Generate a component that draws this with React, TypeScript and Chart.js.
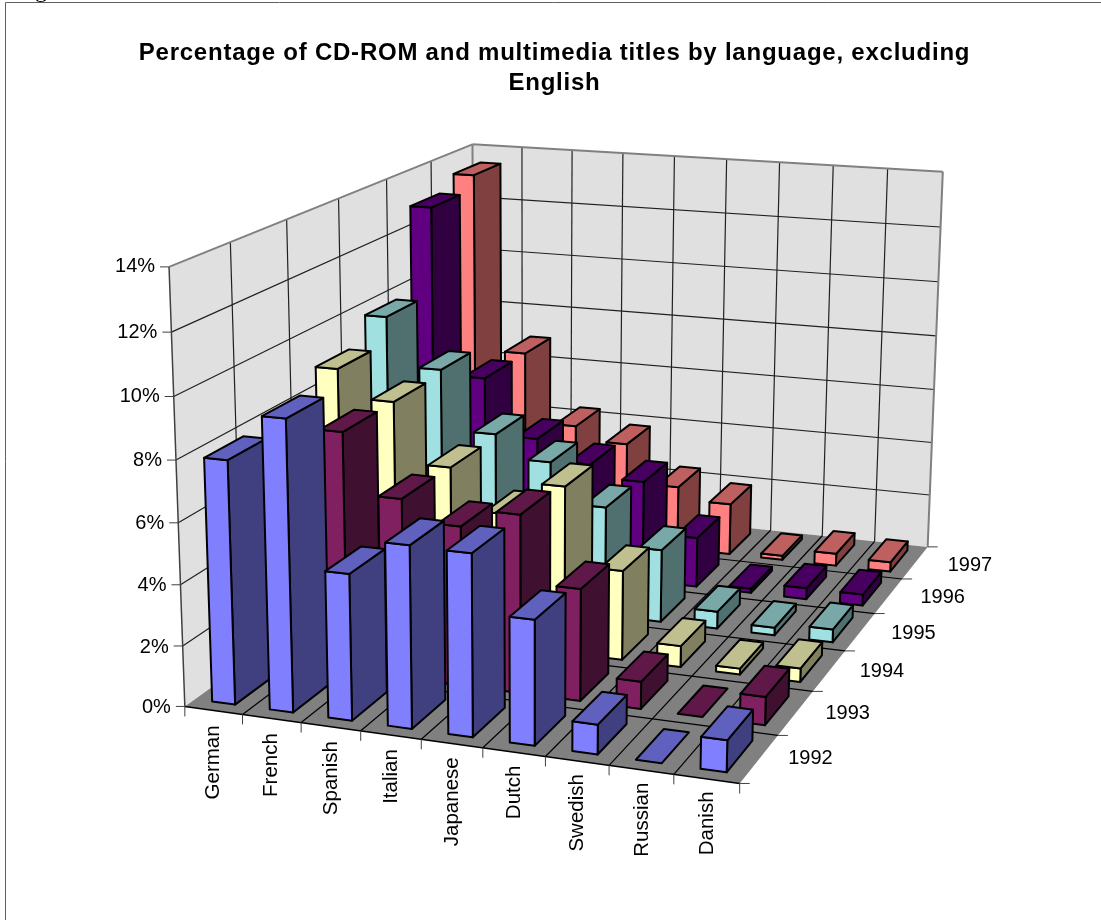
import React, { useEffect, useRef } from "react";
import { Chart, registerables } from "chart.js";

Chart.register(...registerables);

const languages = ["German", "French", "Spanish", "Italian", "Japanese", "Dutch", "Swedish", "Russian", "Danish"];
const years = ["1992", "1993", "1994", "1995", "1996", "1997"];

const values1992 = [7.95, 9.45, 4.75, 5.88, 5.85, 4.0, 0.95, 0, 1];
const values1993 = [6.5, 8, 6, 5.3, 5.9, 3.7, 0.9, 0, 0.92];
const values1994 = [8.95, 8.0, 5.95, 4.55, 5.7, 3.05, 0.72, 0.2, 0.46];
const values1995 = [9.85, 8.15, 6.05, 5.25, 3.85, 2.55, 0.6, 0.27, 0.45];
const values1996 = [12.95, 6.9, 4.85, 4.1, 3.65, 1.8, 0.15, 0.4, 0.4];
const values1997 = [13.45, 6.9, 4.3, 3.8, 2.35, 1.9, 0.15, 0.45, 0.35];
const seriesValues = [values1992, values1993, values1994, values1995, values1996, values1997];
const seriesColors = ["#8080FF", "#802060", "#FFFFC0", "#A0E0E0", "#600080", "#FF8080"];

const titleLines = ["Percentage of CD-ROM and multimedia titles by language, excluding", "English"];

// Bar footprint inside one floor cell, as a share of the cell.
const BAR_WIDTH = 0.4;
const BAR_DEPTH = 0.66;

// Screen positions of the cube's visible corners: [u, v, w, x, y].
const cubeCorners = [
  [0, 0, 0, 186, 707.7],
  [1, 0, 0, 739, 783],
  [1, 1, 0, 928.3, 547.2],
  [0, 1, 0, 473.5, 498],
  [0, 0, 1, 168.5, 266],
  [1, 1, 1, 942.7, 171.7],
  [0, 1, 1, 473, 145],
];

// Least-squares fit of the 3x4 camera matrix (last entry fixed to 1).
function solveCamera(corners: number[][]) {
  const rows: number[][] = [];
  const rhs: number[] = [];
  for (const [u, v, w, px, py] of corners) {
    const x = px / 1000;
    const y = py / 1000;
    rows.push([u, v, w, 1, 0, 0, 0, 0, -x * u, -x * v, -x * w]);
    rhs.push(x);
    rows.push([0, 0, 0, 0, u, v, w, 1, -y * u, -y * v, -y * w]);
    rhs.push(y);
  }
  const n = 11;
  const A: number[][] = [];
  for (let i = 0; i < n; i++) {
    A.push(new Array(n + 1).fill(0));
    for (let j = 0; j < n; j++) {
      for (let r = 0; r < rows.length; r++) A[i][j] += rows[r][i] * rows[r][j];
    }
    A[i][i] += 1e-9;
    for (let r = 0; r < rows.length; r++) A[i][n] += rows[r][i] * rhs[r];
  }
  for (let c = 0; c < n; c++) {
    let p = c;
    for (let r = c + 1; r < n; r++) if (Math.abs(A[r][c]) > Math.abs(A[p][c])) p = r;
    [A[c], A[p]] = [A[p], A[c]];
    for (let r = 0; r < n; r++) {
      if (r === c) continue;
      const f = A[r][c] / A[c][c];
      for (let k = c; k <= n; k++) A[r][k] -= f * A[c][k];
    }
  }
  return A.map((row, i) => row[n] / row[i]);
}

const cam = solveCamera(cubeCorners);

function project(u: number, v: number, w: number): [number, number] {
  const d = cam[8] * u + cam[9] * v + cam[10] * w + 1;
  return [
    (1000 * (cam[0] * u + cam[1] * v + cam[2] * w + cam[3])) / d,
    (1000 * (cam[4] * u + cam[5] * v + cam[6] * w + cam[7])) / d,
  ];
}

function shade(hex: string, f: number) {
  const n = parseInt(hex.slice(1), 16);
  const c = [(n >> 16) & 255, (n >> 8) & 255, n & 255].map((x) => Math.round(x * f));
  return `rgb(${c[0]},${c[1]},${c[2]})`;
}

function poly(ctx: CanvasRenderingContext2D, pts: [number, number][], fill: string | null, stroke: string | null, lw = 1) {
  ctx.beginPath();
  pts.forEach((p, i) => (i ? ctx.lineTo(p[0], p[1]) : ctx.moveTo(p[0], p[1])));
  ctx.closePath();
  if (fill) {
    ctx.fillStyle = fill;
    ctx.fill();
  }
  if (stroke) {
    ctx.strokeStyle = stroke;
    ctx.lineWidth = lw;
    ctx.stroke();
  }
}

function seg(ctx: CanvasRenderingContext2D, a: [number, number], b: [number, number], color: string, lw = 1) {
  ctx.beginPath();
  ctx.moveTo(a[0], a[1]);
  ctx.lineTo(b[0], b[1]);
  ctx.strokeStyle = color;
  ctx.lineWidth = lw;
  ctx.stroke();
}

const GRID = "#202020";
const EDGE = "#808080";
const LABEL_FONT = "20px 'Liberation Sans', Arial, sans-serif";
const SLANT_FONT = "20.5px 'Liberation Sans', Arial, sans-serif";

// Draws walls, floor, axes and bars through the three hidden scales.
const bars3d = {
  id: "bars3d",
  beforeDraw(chart: any) {
    chart.ctx.letterSpacing = "0.77px";
  },
  beforeDatasetsDraw(chart: any) {
    const ctx: CanvasRenderingContext2D = chart.ctx;
    ctx.letterSpacing = "0px";
    const { x: xs, y: ys, depth: zs } = chart.scales;
    const uOf = (i: number) => (xs.getPixelForValue(i) - xs.left) / xs.width;
    const vOf = (i: number) => (zs.getPixelForValue(i) - zs.left) / zs.width;
    const wOf = (val: number) => (ys.bottom - ys.getPixelForValue(val)) / ys.height;
    const cellU = 1 / languages.length;
    const cellV = 1 / years.length;

    ctx.save();
    ctx.lineJoin = "round";

    // Sheet frame and the caption above it.
    ctx.fillStyle = "#000";
    ctx.font = "24px 'Liberation Serif', serif";
    ctx.textAlign = "left";
    ctx.textBaseline = "alphabetic";
    ctx.fillText("Figure", 15, -3);
    seg(ctx, [5.5, 920], [5.5, 2.5], "#606060", 1);
    seg(ctx, [5.5, 2.5], [1101, 2.5], "#606060", 1);

    // Walls and floor.
    poly(ctx, [project(0, 0, 0), project(0, 1, 0), project(0, 1, 1), project(0, 0, 1)], "#E0E0E0", null);
    poly(ctx, [project(0, 1, 0), project(1, 1, 0), project(1, 1, 1), project(0, 1, 1)], "#E0E0E0", null);
    poly(ctx, [project(0, 0, 0), project(1, 0, 0), project(1, 1, 0), project(0, 1, 0)], "#808080", null);

    // Grid on walls and floor.
    for (const t of ys.ticks) {
      const w = wOf(t.value);
      if (w > 0 && w < 1) {
        seg(ctx, project(0, 0, w), project(0, 1, w), GRID, 1.2);
        seg(ctx, project(0, 1, w), project(1, 1, w), GRID, 1.2);
      }
    }
    for (let i = 1; i < years.length; i++) {
      const v = vOf(i) - cellV / 2;
      seg(ctx, project(0, v, 0), project(0, v, 1), GRID, 1.2);
      seg(ctx, project(0, v, 0), project(1, v, 0), "#000", 1.2);
    }
    for (let i = 1; i < languages.length; i++) {
      const u = uOf(i) - cellU / 2;
      seg(ctx, project(u, 1, 0), project(u, 1, 1), GRID, 1.2);
      seg(ctx, project(u, 0, 0), project(u, 1, 0), "#000", 1.2);
    }

    // Wall outlines.
    seg(ctx, project(0, 0, 1), project(0, 1, 1), EDGE, 2);
    seg(ctx, project(0, 1, 1), project(1, 1, 1), EDGE, 2);
    seg(ctx, project(1, 1, 1), project(1, 1, 0), EDGE, 2);
    seg(ctx, project(0, 1, 1), project(0, 1, 0), EDGE, 2);
    seg(ctx, project(0, 0, 1), project(0, 0, 0), "#404040", 1.5);
    seg(ctx, project(0, 0, 0), project(1, 0, 0), "#000", 1.5);

    // Axes: ticks and their labels.
    ctx.font = LABEL_FONT;
    ctx.fillStyle = "#000";
    ctx.textBaseline = "middle";
    ctx.textAlign = "right";
    for (const t of ys.ticks) {
      const [px, py] = project(0, 0, wOf(t.value));
      seg(ctx, [px - 9, py], [px, py], "#404040");
      ctx.fillText(t.label, px - 14, py + 1.5 * (1 - wOf(t.value)));
    }
    for (let i = 0; i <= languages.length; i++) {
      const [px, py] = project(i * cellU, 0, 0);
      seg(ctx, [px, py], [px, py + 10], "#404040");
    }
    ctx.font = SLANT_FONT;
    languages.forEach((name, i) => {
      const [px, py] = project(uOf(i), 0, 0);
      ctx.save();
      ctx.translate(px + 0.1 * i, py + 15 - 0.3 * i);
      ctx.rotate(-Math.PI / 2);
      ctx.textAlign = "right";
      ctx.fillText(name, 0, 0);
      ctx.restore();
    });
    ctx.font = LABEL_FONT;
    ctx.textAlign = "left";
    for (let i = 0; i <= years.length; i++) {
      const [px, py] = project(1, i * cellV, 0);
      seg(ctx, [px, py], [px + 10, py], "#404040");
    }
    years.forEach((name, i) => {
      const [px, py] = project(1, vOf(i), 0);
      ctx.fillText(name, px + 29 + 0.7 * i, py + 0.5 * i);
    });

    // Bars, farthest row first and left to right.
    for (let d = chart.data.datasets.length - 1; d >= 0; d--) {
      const ds = chart.data.datasets[d];
      const v0 = vOf(d) - (BAR_DEPTH * cellV) / 2;
      const v1 = vOf(d) + (BAR_DEPTH * cellV) / 2;
      const base = ds.backgroundColor;
      ds.data.forEach((val: number, i: number) => {
        const u0 = uOf(i) - (BAR_WIDTH * cellU) / 2;
        const u1 = uOf(i) + (BAR_WIDTH * cellU) / 2;
        const w = wOf(val);
        if (val > 0) {
          poly(ctx, [project(u1, v0, 0), project(u1, v1, 0), project(u1, v1, w), project(u1, v0, w)], shade(base, 0.5), "#000", 2);
          poly(ctx, [project(u0, v0, 0), project(u1, v0, 0), project(u1, v0, w), project(u0, v0, w)], base, "#000", 2);
        }
        poly(ctx, [project(u0, v0, w), project(u1, v0, w), project(u1, v1, w), project(u0, v1, w)], shade(base, 0.75), "#000", 2);
      });
    }
    ctx.restore();
    return false;
  },
};

export default function App() {
  const ref = useRef<HTMLCanvasElement>(null);
  useEffect(() => {
    const chart = new Chart(ref.current as HTMLCanvasElement, {
      type: "bar",
      data: {
        labels: languages,
        datasets: years.map((y, i) => ({
          label: y,
          data: seriesValues[i],
          backgroundColor: seriesColors[i],
        })),
      },
      plugins: [bars3d],
      options: {
        responsive: false,
        animation: false,
        layout: { padding: { left: 8 } },
        plugins: {
          legend: { display: false },
          tooltip: { enabled: false },
          title: {
            display: true,
            text: titleLines,
            color: "#000",
            font: { family: "'Liberation Sans', Arial, sans-serif", size: 24, weight: "bold", lineHeight: 1.25 },
            padding: { top: 38, bottom: 10 },
          },
        },
        scales: {
          x: { type: "category", display: false },
          y: {
            type: "linear",
            display: false,
            min: 0,
            max: 14,
            ticks: { stepSize: 2, callback: (v: any) => `${v}%` },
          },
          depth: { type: "category", axis: "x", position: "bottom", display: false, labels: years, offset: true },
        },
      },
    } as any);
    return () => chart.destroy();
  }, []);
  return <canvas ref={ref} width={1101} height={920} style={{ position: "fixed", left: 0, top: 0 }} />;
}
